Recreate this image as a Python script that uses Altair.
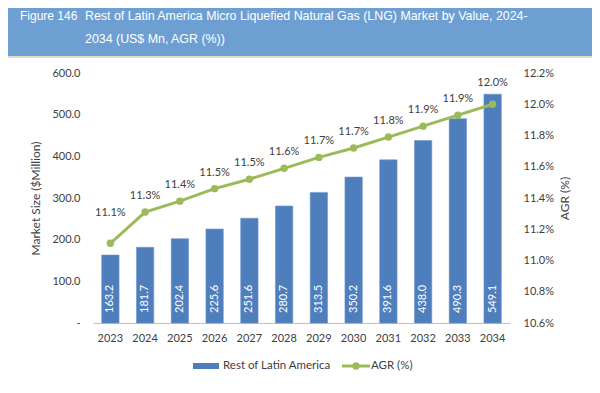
import altair as alt
import pandas as pd

years = ["2023", "2024", "2025", "2026", "2027", "2028", "2029", "2030", "2031", "2032", "2033", "2034"]
market = [163.2, 181.7, 202.4, 225.6, 251.6, 280.7, 313.5, 350.2, 391.6, 438.0, 490.3, 549.1]
agr = [11.11, 11.31, 11.38, 11.46, 11.52, 11.59, 11.66, 11.72, 11.79, 11.86, 11.93, 12.00]

left_ticks = [0, 100, 200, 300, 400, 500, 600]
right_ticks = [10.6, 10.8, 11.0, 11.2, 11.4, 11.6, 11.8, 12.0, 12.2]

title_1 = "Figure 146"
title_2a = "Rest of Latin America Micro Liquefied Natural Gas (LNG) Market by Value, 2024-"
title_2b = "2034 (US$ Mn, AGR (%))"
bar_name = "Rest of Latin America"
line_name = "AGR (%)"

BAR = "#4F7EBD"
GREEN = "#9BBB59"
TXT = "#404040"
FONT = "Lato"
W, H = 417, 250

df = pd.DataFrame({"year": years, "market": market, "agr": agr})
one = pd.DataFrame({"a": [0]})

xenc = alt.X("year:N", title=None,
             scale=alt.Scale(paddingInner=0.5, paddingOuter=0.25),
             axis=alt.Axis(labelAngle=0, ticks=False, labelPadding=9,
                           domainColor="#bfbfbf", domainWidth=1))

base = alt.Chart(df).encode(x=xenc)

lscale = alt.Scale(domain=[0, 600], nice=False)
laxis = alt.Axis(values=left_ticks, orient="left", ticks=False, domain=False,
                 labelPadding=13, labelOverlap=False,
                 labelExpr="datum.value == 0 ? '-' : format(datum.value, '.1f')",
                 title="Market Size ($Million)", titleX=-58, titleY=125,
                 titleAngle=270, titleAlign="center", titleBaseline="middle")

bars = base.mark_bar(color=BAR, stroke="#7197cc", strokeWidth=0.6).encode(
    y=alt.Y("market:Q", scale=lscale, axis=laxis))
bar_labels = base.transform_calculate(zero="0").mark_text(
    angle=270, align="left", baseline="middle", dx=10, color="white",
    font=FONT, fontSize=11
).encode(y=alt.Y("zero:Q", scale=lscale, axis=laxis),
         text=alt.Text("market:Q", format=".1f"))

left_layer = alt.layer(bars, bar_labels)

yr = alt.Y("agr:Q", scale=alt.Scale(domain=[10.6, 12.2], nice=False, zero=False),
           axis=alt.Axis(values=right_ticks, orient="right", ticks=False, domain=False,
                         labelPadding=13, labelOverlap=False,
                         labelExpr="format(datum.value, '.1f') + '%'",
                         title="AGR (%)", titleX=54, titleY=125,
                         titleAngle=270, titleAlign="center", titleBaseline="middle"))

rbase = base.encode(y=yr)
line = rbase.mark_line(color=GREEN, strokeWidth=3)
pts = rbase.mark_point(filled=True, size=55, color=GREEN, opacity=1)
lab = rbase.transform_calculate(t="format(datum.agr, '.1f') + '%'")
lab_mid = lab.transform_filter("datum.year != '2023' && datum.year != '2034'").mark_text(
    dy=-16, color=TXT, font=FONT, fontSize=11).encode(text="t:N")
lab_first = lab.transform_filter("datum.year == '2023'").mark_text(
    dy=-30, color=TXT, font=FONT, fontSize=11).encode(text="t:N")
lab_last = lab.transform_filter("datum.year == '2034'").mark_text(
    dy=-21, color=TXT, font=FONT, fontSize=11).encode(text="t:N")

right_layer = alt.layer(line, pts, lab_mid, lab_first, lab_last)

deco = alt.Chart(one)
title_bar = deco.mark_rect(color="#6E9FD3").encode(
    x=alt.value(-100), x2=alt.value(W + 100), y=alt.value(-80), y2=alt.value(-17))
bar_edge = deco.mark_rule(color="#c8b88a", strokeWidth=1).encode(
    x=alt.value(-100), x2=alt.value(W + 100), y=alt.value(-16))
t1 = deco.mark_text(text=title_1, align="left", baseline="alphabetic", color="white",
                    font="Liberation Sans", fontSize=12).encode(x=alt.value(-73), y=alt.value(-53))
t2 = deco.mark_text(text=title_2a, align="left", baseline="alphabetic", color="white",
                    font="Liberation Sans", fontSize=12.4).encode(x=alt.value(-8), y=alt.value(-53))
t3 = deco.mark_text(text=title_2b, align="left", baseline="alphabetic", color="white",
                    font="Liberation Sans", fontSize=12.4).encode(x=alt.value(-8), y=alt.value(-30))

LY = 293
leg_rect = deco.mark_rect(color=BAR).encode(
    x=alt.value(100), x2=alt.value(126), y=alt.value(LY - 3), y2=alt.value(LY + 3))
leg_t1 = deco.mark_text(text=bar_name, align="left", baseline="middle", color=TXT,
                        font=FONT, fontSize=11.5).encode(x=alt.value(130), y=alt.value(LY))
leg_line = deco.mark_rule(color=GREEN, strokeWidth=3).encode(
    x=alt.value(249), x2=alt.value(277), y=alt.value(LY))
leg_pt = deco.mark_point(filled=True, size=55, color=GREEN, opacity=1).encode(
    x=alt.value(263), y=alt.value(LY))
leg_t2 = deco.mark_text(text=line_name, align="left", baseline="middle", color=TXT,
                        font=FONT, fontSize=11.5).encode(x=alt.value(278), y=alt.value(LY))

chart = alt.layer(
    title_bar, bar_edge, t1, t2, t3,
    left_layer, right_layer,
    leg_rect, leg_t1, leg_line, leg_pt, leg_t2
).resolve_scale(y="independent").properties(
    width=W, height=H,
    autosize=alt.AutoSizeParams(type="none"),
    padding={"left": 85, "top": 65, "right": 82, "bottom": 62},
).configure_view(stroke=None).configure_axis(
    grid=False, labelFont=FONT, labelFontSize=11, labelColor=TXT,
    titleFont=FONT, titleFontSize=12, titleColor=TXT, titleFontWeight="normal"
)

chart.save("out.html", embed_options={"renderer": "svg", "actions": False})
